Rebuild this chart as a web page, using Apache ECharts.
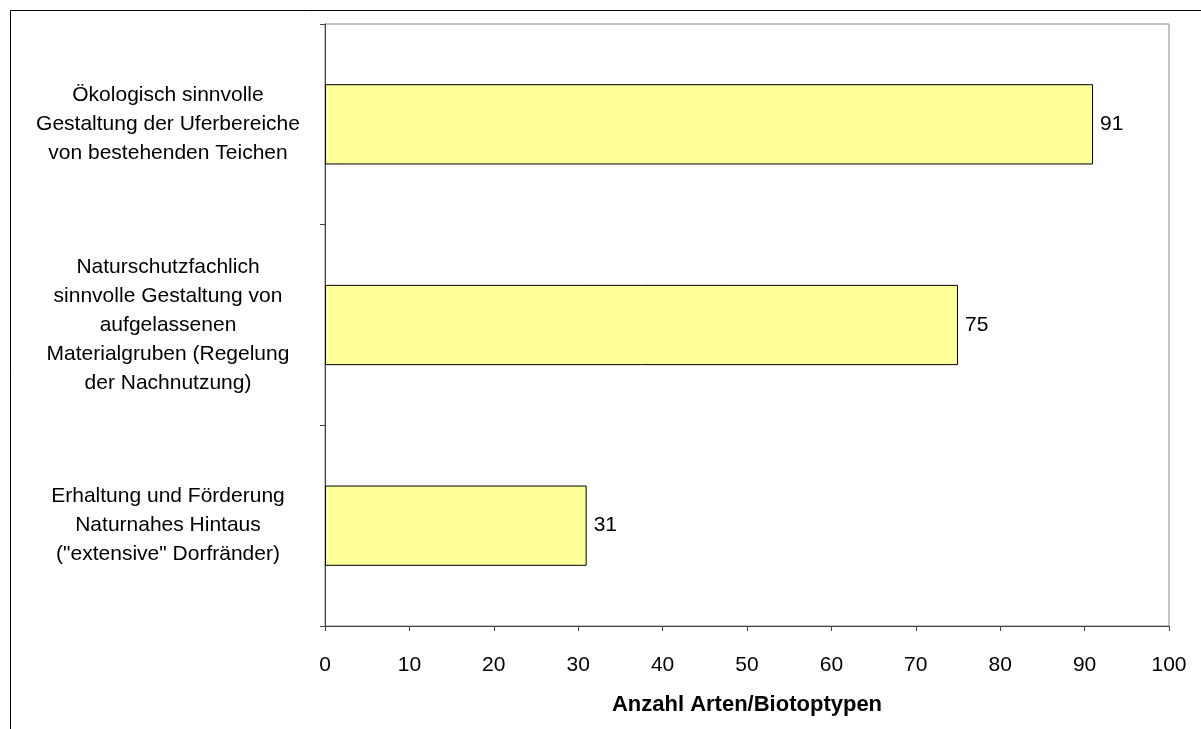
<!DOCTYPE html>
<html>
<head>
<meta charset="utf-8">
<script src="https://cdn.jsdelivr.net/npm/echarts@6/dist/echarts.min.js"></script>
<style>
  html, body { margin: 0; padding: 0; background: #fff; }
  #chart { width: 1201px; height: 729px; }
</style>
</head>
<body>
<div id="chart"></div>
<script>
const categories = [
  'Erhaltung und Förderung\nNaturnahes Hintaus\n("extensive" Dorfränder)',
  'Naturschutzfachlich\nsinnvolle Gestaltung von\naufgelassenen\nMaterialgruben (Regelung\nder Nachnutzung)',
  'Ökologisch sinnvolle\nGestaltung der Uferbereiche\nvon bestehenden Teichen'
];
const values = [31, 75, 91];
const axisTitle = 'Anzahl Arten/Biotoptypen';

const chart = echarts.init(document.getElementById('chart'));
const font = 'Liberation Sans, Arial, sans-serif';

chart.setOption({
  animation: false,
  graphic: [
    {
      type: 'rect',
      shape: { x: 10.5, y: 10.5, width: 1400, height: 900 },
      style: { fill: 'none', stroke: '#000', lineWidth: 1 },
      silent: true
    }
  ],
  grid: {
    left: 325, right: 32, top: 24, bottom: 103,
    show: true, borderColor: '#888', borderWidth: 1, backgroundColor: '#fff'
  },
  xAxis: {
    type: 'value',
    min: 0, max: 100, interval: 10,
    splitLine: { show: false },
    axisLine: { show: true, lineStyle: { color: '#444', width: 1 } },
    axisTick: { show: true, length: 5, lineStyle: { color: '#444' } },
    axisLabel: { color: '#000', fontSize: 21, fontFamily: font, margin: 29 },
    name: axisTitle,
    nameLocation: 'middle',
    nameGap: 68,
    nameTextStyle: { color: '#000', fontSize: 22, fontWeight: 'bold', fontFamily: font }
  },
  yAxis: {
    type: 'category',
    data: categories,
    axisLine: { show: true, lineStyle: { color: '#444', width: 1 } },
    axisTick: { show: true, length: 5, lineStyle: { color: '#444' } },
    axisLabel: {
      color: '#000', fontSize: 21, fontFamily: font, margin: 157,
      align: 'center', lineHeight: 29, padding: [6, 0, 0, 0]
    }
  },
  series: [
    {
      type: 'bar',
      data: values,
      barWidth: '40%',
      itemStyle: { color: '#FFFF99', borderColor: '#000', borderWidth: 1 },
      label: {
        show: true, position: 'right', distance: 7,
        color: '#000', fontSize: 21, fontFamily: font
      }
    }
  ]
});
</script>
</body>
</html>
